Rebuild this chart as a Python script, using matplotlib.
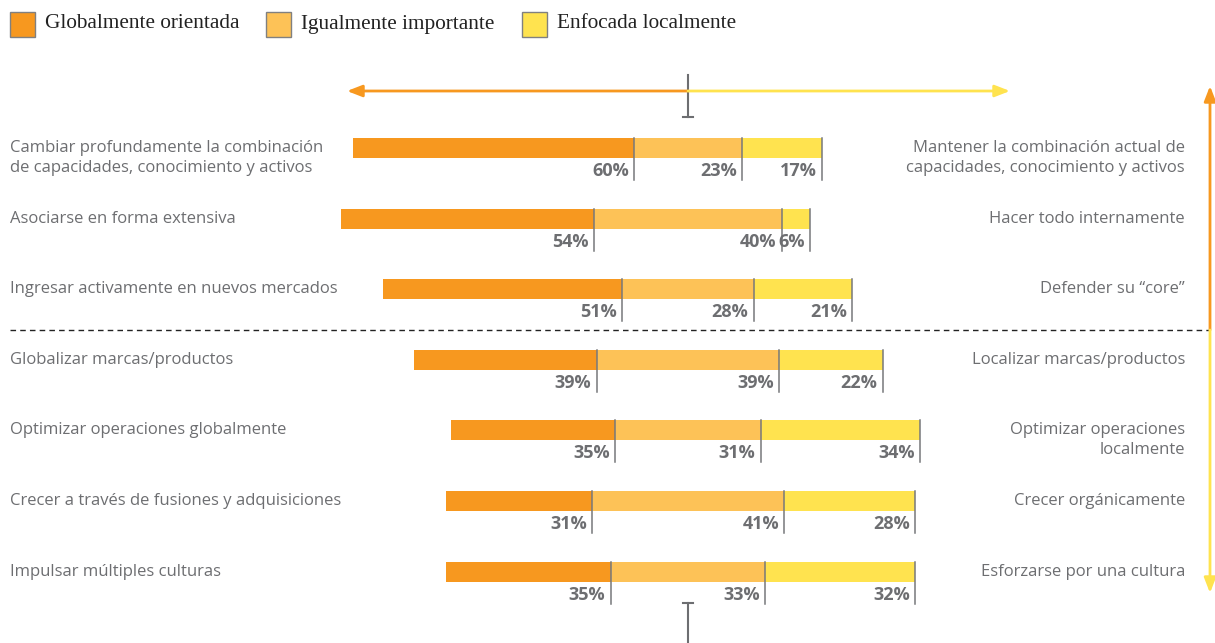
import numpy as np
import matplotlib
matplotlib.use("Agg")
import matplotlib.pyplot as plt
from matplotlib.patches import Rectangle

# data
left_labels = [
    "Cambiar profundamente la combinación\nde capacidades, conocimiento y activos",
    "Asociarse en forma extensiva",
    "Ingresar activamente en nuevos mercados",
    "Globalizar marcas/productos",
    "Optimizar operaciones globalmente",
    "Crecer a través de fusiones y adquisiciones",
    "Impulsar múltiples culturas",
]
right_labels = [
    "Mantener la combinación actual de\ncapacidades, conocimiento y activos",
    "Hacer todo internamente",
    "Defender su \u201ccore\u201d",
    "Localizar marcas/productos",
    "Optimizar operaciones\nlocalmente",
    "Crecer orgánicamente",
    "Esforzarse por una cultura",
]
global_pct = [60, 54, 51, 39, 35, 31, 35]
equal_pct = [23, 40, 28, 39, 31, 41, 33]
local_pct = [17, 6, 21, 22, 34, 28, 32]
series_names = ["Globalmente orientada", "Igualmente importante", "Enfocada localmente"]

colors = ["#F7981F", "#FDC257", "#FFE34F"]
gray = "#6D6E71"
sans = "Open Sans"
serif = "Liberation Serif"

W, H = 1215, 643
fig = plt.figure(figsize=(W / 100, H / 100), dpi=100)
ax = fig.add_axes([0, 0, 1, 1])
px = 4.69  # pixels per percent
cx = 688
ax.set_xlim(-cx / px, (W - cx) / px)
ax.set_ylim(H, 0)
ax.axis("off")

def X(p):
    # pixel -> data x
    return (p - cx) / px

g = np.array(global_pct, float)
e = np.array(equal_pct, float)
l = np.array(local_pct, float)
start = -(g + e / 2)
ys = 148 + 70.6 * np.arange(len(g))
bh = 20

for vals, lefts, c in [(g, start, colors[0]), (e, start + g, colors[1]), (l, start + g + e, colors[2])]:
    ax.barh(ys, vals, left=lefts, height=bh, color=c, linewidth=0)
    ends = lefts + vals
    for y, xe, v in zip(ys, ends, vals):
        ax.plot([xe, xe], [y - bh / 2, y + bh / 2 + 22], color="#77787B", lw=1.1)
        ax.text(xe - 1.1, y + bh / 2 + 13, f"{int(v)}%", ha="right", va="center",
                fontsize=13, fontweight="bold", color=gray, family=sans)

for y, lt, rt in zip(ys, left_labels, right_labels):
    for k, line in enumerate(lt.split("\n")):
        ax.text(X(10), y + 20 * k, line, ha="left", va="center", fontsize=12,
                color=gray, family=sans)
    for k, line in enumerate(rt.split("\n")):
        ax.text(X(1185), y + 20 * k, line, ha="right", va="center", fontsize=12,
                color=gray, family=sans)

# top horizontal arrow
ax.annotate("", xy=(X(347), 91), xytext=(0, 91),
            arrowprops=dict(arrowstyle="-|>,head_length=0.9,head_width=0.35", color=colors[0], lw=2, shrinkA=0, shrinkB=0))
ax.annotate("", xy=(X(1010), 91), xytext=(0, 91),
            arrowprops=dict(arrowstyle="-|>,head_length=0.9,head_width=0.35", color=colors[2], lw=2, shrinkA=0, shrinkB=0))
ax.plot([0, 0], [75, 117], color=gray, lw=1.5)
ax.plot([X(683), X(693)], [117, 117], color=gray, lw=1.5)
# bottom marker
ax.plot([0, 0], [603, 643], color=gray, lw=1.5)
ax.plot([X(683), X(693)], [603, 603], color=gray, lw=1.5)

# dashed separator
ax.plot([X(10), X(1210)], [330, 330], color="#222222", lw=1, ls=(0, (4, 3)))
# vertical arrow on the right
ax.annotate("", xy=(X(1210), 86), xytext=(X(1210), 330),
            arrowprops=dict(arrowstyle="-|>,head_length=0.9,head_width=0.35", color="#F7981F", lw=2, shrinkA=0, shrinkB=0))
ax.annotate("", xy=(X(1210), 593), xytext=(X(1210), 330),
            arrowprops=dict(arrowstyle="-|>,head_length=0.9,head_width=0.35", color=colors[2], lw=2, shrinkA=0, shrinkB=0))

# legend
for x0, name, c in zip([10, 266, 522], series_names, colors):
    ax.add_patch(Rectangle((X(x0), 12), 25 / px, 25, facecolor=c, edgecolor="#808080", lw=1))
    ax.text(X(x0 + 35), 24, name, ha="left", va="center", fontsize=15.3,
            color="#222222", family=serif)

fig.savefig("out.png", dpi=100)
